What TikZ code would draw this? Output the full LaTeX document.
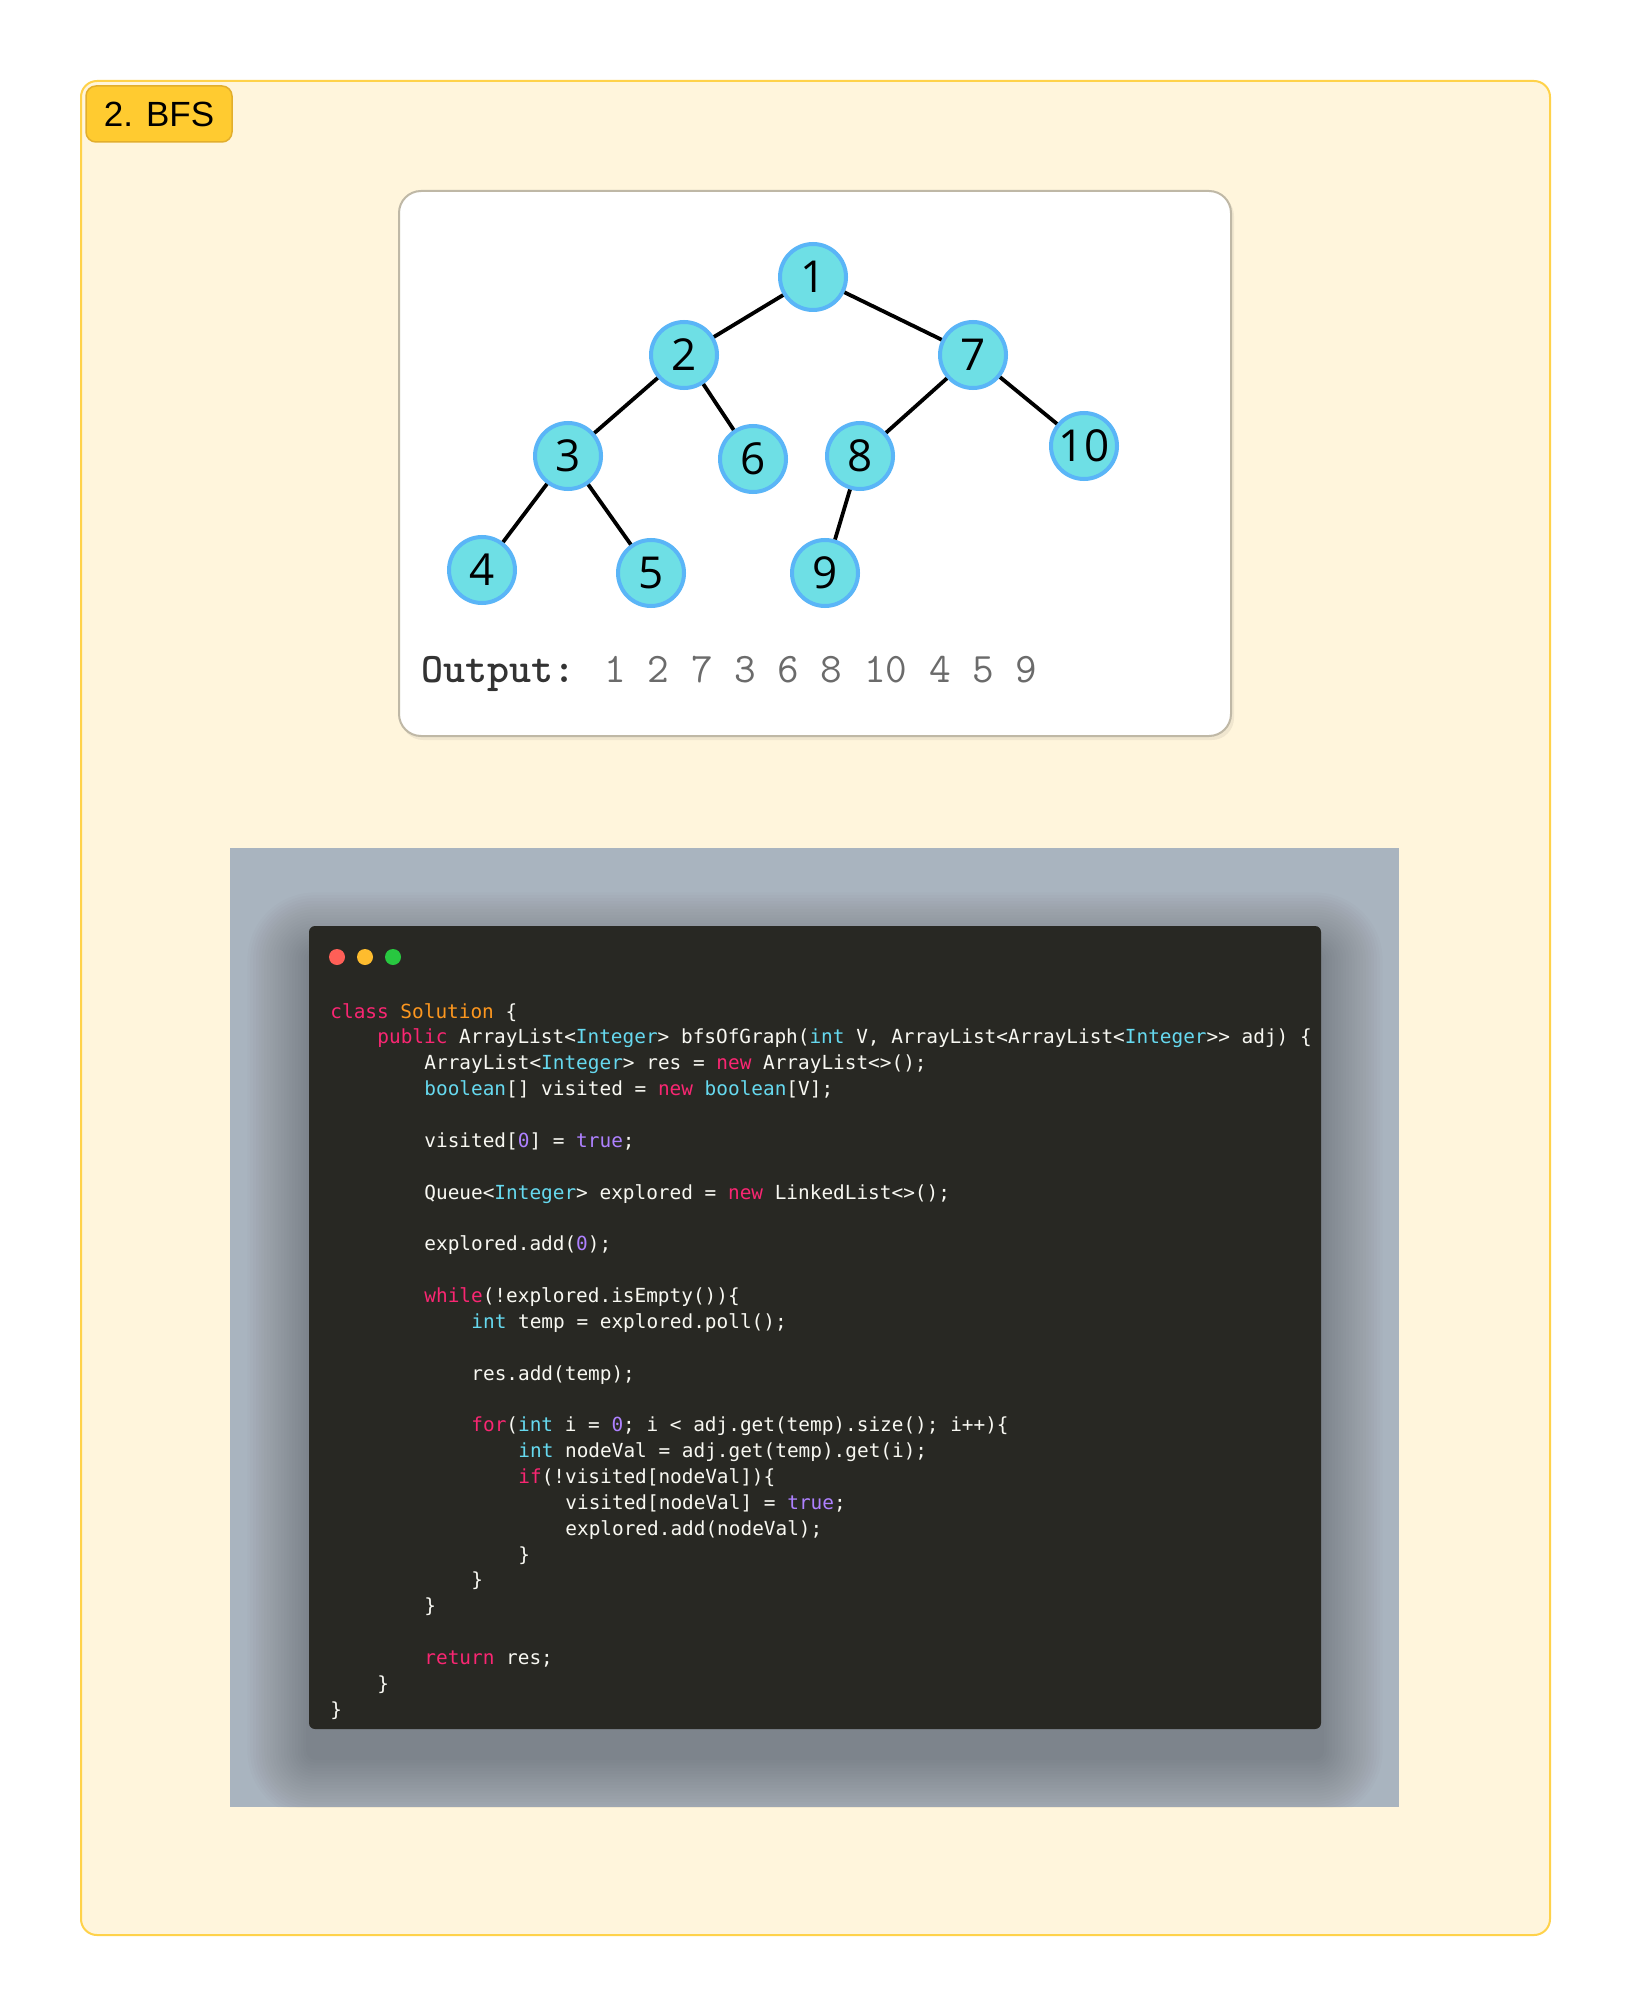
\documentclass[tikz,border=0pt]{standalone}
\usepackage{fontspec}
\usepackage{xcolor}
\newfontfamily\digitfont{Open Sans}
\newfontfamily\badgefont{Liberation Sans}
\newfontfamily\codefont{DejaVu Sans Mono}

\definecolor{cream}{HTML}{FFF5DC}
\definecolor{boxline}{HTML}{FFD24A}
\definecolor{badgefill}{HTML}{FFCB30}
\definecolor{badgeline}{HTML}{E2AE2C}
\definecolor{cardline}{HTML}{BFB8A6}
\definecolor{vertexfill}{HTML}{6EDFE5}
\definecolor{vertexline}{HTML}{5AB5F7}
\definecolor{panel}{HTML}{A9B4BF}
\definecolor{codebg}{HTML}{282823}
\definecolor{codetext}{HTML}{F8F8F2}
\definecolor{kwpink}{HTML}{F92672}
\definecolor{clsorange}{HTML}{FD971F}
\definecolor{tycyan}{HTML}{66D9EF}
\definecolor{numpurple}{HTML}{AE81FF}
\definecolor{dotred}{HTML}{FF5F57}
\definecolor{dotyellow}{HTML}{FEBC2E}
\definecolor{dotgreen}{HTML}{28C840}

\newcommand\kw[1]{\textcolor{kwpink}{#1}}
\newcommand\cls[1]{\textcolor{clsorange}{#1}}
\newcommand\ty[1]{\textcolor{tycyan}{#1}}
\newcommand\num[1]{\textcolor{numpurple}{#1}}

\begin{document}
\begin{tikzpicture}[x=0.5pt, y=-0.5pt,
	vertex/.style={circle, draw=vertexline, fill=vertexfill, line width=2pt, minimum size=33pt, inner sep=0pt, font=\digitfont\fontsize{22}{22}\selectfont},
	codeline/.style={anchor=base west, inner sep=0pt, text=codetext, font=\codefont\fontsize{9.7}{12}\selectfont},
	dot/.style={circle, inner sep=0pt, minimum size=8pt},
	badge/.style={draw=badgeline, fill=badgefill, line width=0.75pt, rounded corners=5pt, minimum width=73pt, minimum height=28pt, font=\badgefont\fontsize{17.5}{18}\selectfont}]
	\useasboundingbox (0,0) rectangle (1632,2016);
	\fill[white] (0,0) rectangle (1632,2016);
	\draw[draw=boxline, fill=cream, line width=1pt, rounded corners=8pt] (81,81) rectangle (1550,1935);
	\node[badge] (title) at (159,114) {2. BFS};

	% tree card
	\fill[black, opacity=0.06, rounded corners=11pt] (401,194) rectangle (1234,740);
	\draw[draw=cardline, fill=white, line width=1pt, rounded corners=11pt] (399,191) rectangle (1231,736);
	\node[vertex] (n1) at (813,277) {1};
	\node[vertex] (n2) at (684,355) {2};
	\node[vertex] (n7) at (973,355) {7};
	\node[vertex] (n3) at (568,456) {3};
	\node[vertex] (n6) at (753,459) {6};
	\node[vertex] (n8) at (860,456) {8};
	\node[vertex] (n10) at (1084,446) {10};
	\node[vertex] (n4) at (482,570) {4};
	\node[vertex] (n5) at (651,573) {5};
	\node[vertex] (n9) at (825,573) {9};
	\draw[line width=1.9pt] (n1) -- (n2) (n1) -- (n7) (n2) -- (n3) (n2) -- (n6)
		(n3) -- (n4) (n3) -- (n5) (n7) -- (n8) (n7) -- (n10) (n8) -- (n9);
	\node[anchor=base west, inner sep=0pt, font=\ttfamily\fontsize{21}{21}\selectfont, text=black!58] (output) at (421,682)
		{\textcolor{black!80}{\bfseries Output:} 1 2 7 3 6 8 10 4 5 9};

	% code window
	\fill[panel] (230,848) rectangle (1399,1807);
	\begin{scope}
		\clip (230,848) rectangle (1399,1807);
		\foreach \s in {1,...,22}
			\fill[black, fill opacity=0.011, rounded corners=3pt+\s*1.4pt] (309-2.8*\s,954-2.8*\s) rectangle (1321+2.8*\s,1757+2.8*\s);
	\end{scope}
	\fill[codebg, rounded corners=3pt] (309,926) rectangle (1321,1729);
	\node[dot, fill=dotred] (dred) at (337,957) {};
	\node[dot, fill=dotyellow] (dyellow) at (365,957) {};
	\node[dot, fill=dotgreen] (dgreen) at (393,957) {};

	\node[codeline] (l0) at (330,1018) {\kw{class} \cls{Solution} \{};
	\node[codeline] (l1) at (377,1043.9) {\kw{public} ArrayList<\ty{Integer}> bfsOfGraph(\ty{int} V, ArrayList<ArrayList<\ty{Integer}>> adj) \{};
	\node[codeline] (l2) at (424,1069.7) {ArrayList<\ty{Integer}> res = \kw{new} ArrayList<>();};
	\node[codeline] (l3) at (424,1095.6) {\ty{boolean}[] visited = \kw{new} \ty{boolean}[V];};
	\node[codeline] (l5) at (424,1147.3) {visited[\num{0}] = \num{true};};
	\node[codeline] (l7) at (424,1199.0) {Queue<\ty{Integer}> explored = \kw{new} LinkedList<>();};
	\node[codeline] (l9) at (424,1250.7) {explored.add(\num{0});};
	\node[codeline] (l11) at (424,1302.5) {\kw{while}(!explored.isEmpty())\{};
	\node[codeline] (l12) at (471,1328.3) {\ty{int} temp = explored.poll();};
	\node[codeline] (l14) at (471,1380.0) {res.add(temp);};
	\node[codeline] (l16) at (471,1431.8) {\kw{for}(\ty{int} i = \num{0}; i < adj.get(temp).size(); i++)\{};
	\node[codeline] (l17) at (518,1457.6) {\ty{int} nodeVal = adj.get(temp).get(i);};
	\node[codeline] (l18) at (518,1483.5) {\kw{if}(!visited[nodeVal])\{};
	\node[codeline] (l19) at (565,1509.3) {visited[nodeVal] = \num{true};};
	\node[codeline] (l20) at (565,1535.2) {explored.add(nodeVal);};
	\node[codeline] (l21) at (518,1561.1) {\}};
	\node[codeline] (l22) at (471,1586.9) {\}};
	\node[codeline] (l23) at (424,1612.8) {\}};
	\node[codeline] (l25) at (424,1664.5) {\kw{return} res;};
	\node[codeline] (l26) at (377,1690.4) {\}};
	\node[codeline] (l27) at (330,1716.2) {\}};
\end{tikzpicture}
\end{document}
